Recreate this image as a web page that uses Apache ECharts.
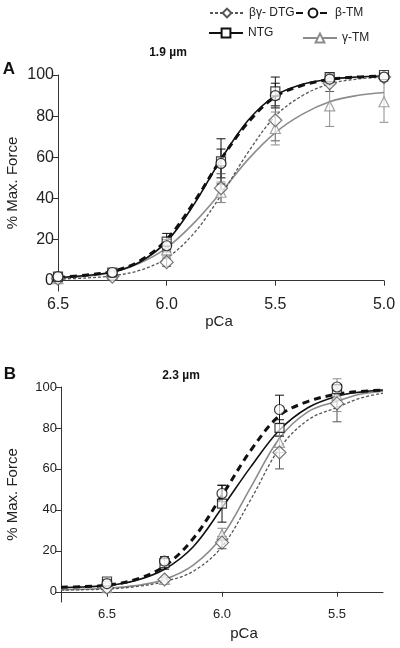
<!DOCTYPE html>
<html><head><meta charset="utf-8">
<script src="https://cdn.jsdelivr.net/npm/echarts@6/dist/echarts.min.js"></script>
<style>html,body{margin:0;padding:0;background:#fff}#c{width:400px;height:648px}</style>
</head><body><div id="c"></div>
<script>
// ---------- Panel A (1.9 µm) ----------
const ptsA = [6.5, 6.25, 6.0, 5.75, 5.5, 5.25, 5.0];
const ntgA = [2, 4, 19, 58, 92, 99, 100];
const ntgAerr = [1, 1, 4, 11, 7, 2, 1];
const btmA = [2, 4, 17, 57, 90, 98, 99];
const btmAerr = [1, 1, 3, 7, 6, 2, 1];
const dtgA = [1, 2, 9, 45, 78, 96, 99];
const dtgAerr = [0.5, 1, 2, 7, 10, 4, 1];
const gtmA = [1, 3, 15, 43, 74, 85, 87];
const gtmAerr = [0.5, 1, 3, 5, 8, 10, 10];
const curveXA = [6.5, 6.375, 6.25, 6.125, 6.0, 5.875, 5.75, 5.625, 5.5, 5.375, 5.25, 5.125, 5.0];
const ntgCurveA = [1.5, 2.5, 4.2, 9, 19, 37, 59, 78, 90, 95.5, 98, 99, 99.5];
const btmCurveA = [1.6, 2.7, 4.5, 9.5, 20, 38, 59, 77, 89.5, 95, 97.8, 99, 99.5];
const dtgCurveA = [0.8, 1.3, 2.4, 5, 11, 23, 41.5, 62.5, 80, 90, 95.7, 98, 99];
const gtmCurveA = [1.2, 2.2, 4, 8.5, 16, 28, 43, 59, 72, 81, 87, 90, 91.5];
const xTicksA = [6.5, 6.0, 5.5, 5.0];

// ---------- Panel B (2.3 µm) ----------
const ptsB = [6.5, 6.25, 6.0, 5.75, 5.5];
const ntgB = [5, 14, 43, 80, 99];
const ntgBerr = [1, 3, 9, 4, 1];
const btmB = [4, 15, 48, 89, 100];
const btmBerr = [1, 2, 4, 7, 1];
const dtgB = [2, 6, 24, 68, 92];
const dtgBerr = [0.5, 1, 3, 8, 9];
const gtmB = [2, 6, 28, 73, 96];
const gtmBerr = [0.5, 1, 3, 5, 8];
const curveXB = [6.7, 6.6, 6.5, 6.375, 6.25, 6.125, 6.0, 5.875, 5.75, 5.625, 5.5, 5.4, 5.3];
const ntgCurveB = [2, 2.4, 3, 5.5, 11, 22, 41, 61, 79, 90, 95.5, 97.5, 98.5];
const btmCurveB = [2.2, 2.5, 3.2, 6, 12.5, 26, 47, 69, 86, 93, 96.5, 97.8, 98.5];
const dtgCurveB = [0.8, 1, 1.3, 2.5, 5, 10, 22, 45, 70, 84, 90, 94.5, 97];
const gtmCurveB = [1, 1.2, 1.7, 3, 6, 13, 27, 51, 75, 88, 93, 96.5, 98];
const xTicksB = [6.5, 6.0, 5.5];

const yTicks = [0, 20, 40, 60, 80, 100];
const names = ['NTG', 'β-TM', 'βγ- DTG', 'γ-TM'];

const FONT = 'Liberation Sans, Arial, sans-serif';
const styles = {
  'NTG':     {color: '#111', width: 1.6, type: 'solid', symbol: 'rect', size: 9},
  'β-TM':    {color: '#111', width: 3, type: [7, 5], symbol: 'circle', size: 10},
  'βγ- DTG': {color: '#555', width: 1.3, type: [3, 2], symbol: 'diamond', size: 13},
  'γ-TM':    {color: '#8c8c8c', width: 1.6, type: 'solid', symbol: 'triangle', size: 10}
};

function zipXY(xs, ys) { return xs.map((x, i) => [x, ys[i]]); }
function zipErr(xs, ys, es) { return xs.map((x, i) => [x, ys[i], es[i]]); }

function errRender(color) {
  return function (params, api) {
    const x = api.value(0), y = api.value(1), e = api.value(2);
    const t = api.coord([x, y + e]), b = api.coord([x, y - e]);
    const cw = 4.5;
    const st = {stroke: color, lineWidth: 1};
    return {type: 'group', children: [
      {type: 'line', shape: {x1: t[0], y1: t[1], x2: b[0], y2: b[1]}, style: st},
      {type: 'line', shape: {x1: t[0] - cw, y1: t[1], x2: t[0] + cw, y2: t[1]}, style: st},
      {type: 'line', shape: {x1: b[0] - cw, y1: b[1], x2: b[0] + cw, y2: b[1]}, style: st}
    ]};
  };
}

const panels = [
  {pts: ptsA, curveX: curveXA,
   data: {'NTG': [ntgA, ntgAerr, ntgCurveA], 'β-TM': [btmA, btmAerr, btmCurveA],
          'βγ- DTG': [dtgA, dtgAerr, dtgCurveA], 'γ-TM': [gtmA, gtmAerr, gtmCurveA]}},
  {pts: ptsB, curveX: curveXB,
   data: {'NTG': [ntgB, ntgBerr, ntgCurveB], 'β-TM': [btmB, btmBerr, btmCurveB],
          'βγ- DTG': [dtgB, dtgBerr, dtgCurveB], 'γ-TM': [gtmB, gtmBerr, gtmCurveB]}}
];

const series = [];
panels.forEach((p, pi) => {
  ['γ-TM', 'βγ- DTG', 'NTG', 'β-TM'].forEach(n => {
    const s = styles[n];
    series.push({
      type: 'line', name: n, xAxisIndex: pi, yAxisIndex: pi,
      data: zipXY(p.curveX, p.data[n][2]), smooth: 0.35,
      showSymbol: false, symbol: s.symbol, symbolSize: s.size,
      itemStyle: {color: '#fff', borderColor: s.color, borderWidth: 1.2},
      lineStyle: {color: s.color, width: s.width, type: s.type},
      silent: true, z: 2, animation: false
    });
  });
  names.forEach(n => {
    const s = styles[n];
    series.push({
      type: 'custom', name: n + ' err', xAxisIndex: pi, yAxisIndex: pi,
      data: zipErr(p.pts, p.data[n][0], p.data[n][1]),
      renderItem: errRender(s.color), z: 3, silent: true, animation: false
    });
  });
  ['γ-TM', 'βγ- DTG', 'NTG', 'β-TM'].forEach(n => {
    const s = styles[n];
    series.push({
      type: 'scatter', name: n + ' pts', xAxisIndex: pi, yAxisIndex: pi,
      data: zipXY(p.pts, p.data[n][0]), symbol: s.symbol, symbolSize: s.size,
      itemStyle: {color: 'rgba(255,255,255,0.85)', borderColor: s.color, borderWidth: 1.2},
      z: 4, silent: true, animation: false
    });
  });
});

function xAxisCfg(gi, min, max, ticks, fs) {
  return {
    type: 'value', gridIndex: gi, min: min, max: max, inverse: true,
    axisLine: {show: true, lineStyle: {color: '#333', width: 1}},
    axisTick: {show: true, length: 5, customValues: ticks, lineStyle: {color: '#333'}},
    axisLabel: {customValues: ticks, formatter: v => v.toFixed(1), fontSize: fs, color: '#222',
                fontFamily: FONT, margin: 6},
    splitLine: {show: false}
  };
}
function yAxisCfg(gi, fs, gap) {
  return {
    type: 'value', gridIndex: gi, min: -5, max: 100,
    name: '% Max. Force', nameLocation: 'middle', nameGap: gap, nameRotate: 90,
    nameMoveOverlap: false,
    nameTextStyle: {fontSize: 15, color: '#222', fontFamily: FONT},
    axisLine: {show: true, lineStyle: {color: '#333', width: 1}},
    axisTick: {show: true, length: 5, customValues: yTicks, lineStyle: {color: '#333'}},
    axisLabel: {customValues: yTicks, fontSize: fs, color: '#222', fontFamily: FONT, margin: 4},
    splitLine: {show: false}
  };
}

function legendCfg(name, left, top) {
  return {
    data: [name], left: left, top: top, itemWidth: 34, itemHeight: 11, itemGap: 4,
    padding: 0, selectedMode: false,
    textStyle: {fontSize: 12, color: '#222', fontFamily: FONT}
  };
}

const option = {
  animation: false,
  backgroundColor: '#fff',
  grid: [
    {left: 58, right: 16, top: 75, height: 216, outerBoundsMode: 'none', containLabel: false},
    {left: 61, right: 17, top: 387, height: 215, outerBoundsMode: 'none', containLabel: false}
  ],
  xAxis: [xAxisCfg(0, 5.0, 6.5, xTicksA, 16), xAxisCfg(1, 5.3, 6.7, xTicksB, 13)],
  yAxis: [yAxisCfg(0, 16, 38), yAxisCfg(1, 13, 41)],
  legend: [
    legendCfg('βγ- DTG', 209, 7),
    legendCfg('β-TM', 295, 7),
    legendCfg('NTG', 208, 27),
    legendCfg('γ-TM', 302, 32)
  ],
  graphic: [
    {type: 'text', x: 168, y: 53, style: {text: '1.9 µm', font: 'bold 12px ' + FONT, fill: '#111', textAlign: 'center', textVerticalAlign: 'middle'}},
    {type: 'text', x: 181, y: 376, style: {text: '2.3 µm', font: 'bold 12px ' + FONT, fill: '#111', textAlign: 'center', textVerticalAlign: 'middle'}},
    {type: 'text', x: 9, y: 69, style: {text: 'A', font: 'bold 17px ' + FONT, fill: '#111', textAlign: 'center', textVerticalAlign: 'middle'}},
    {type: 'text', x: 10, y: 374, style: {text: 'B', font: 'bold 17px ' + FONT, fill: '#111', textAlign: 'center', textVerticalAlign: 'middle'}},
    {type: 'text', x: 219, y: 322, style: {text: 'pCa', font: '15px ' + FONT, fill: '#222', textAlign: 'center', textVerticalAlign: 'middle'}},
    {type: 'text', x: 244, y: 634, style: {text: 'pCa', font: '15px ' + FONT, fill: '#222', textAlign: 'center', textVerticalAlign: 'middle'}}
  ],
  series: series
};

const chart = echarts.init(document.getElementById('c'), null, {renderer: 'canvas'});
chart.setOption(option);
</script></body></html>
